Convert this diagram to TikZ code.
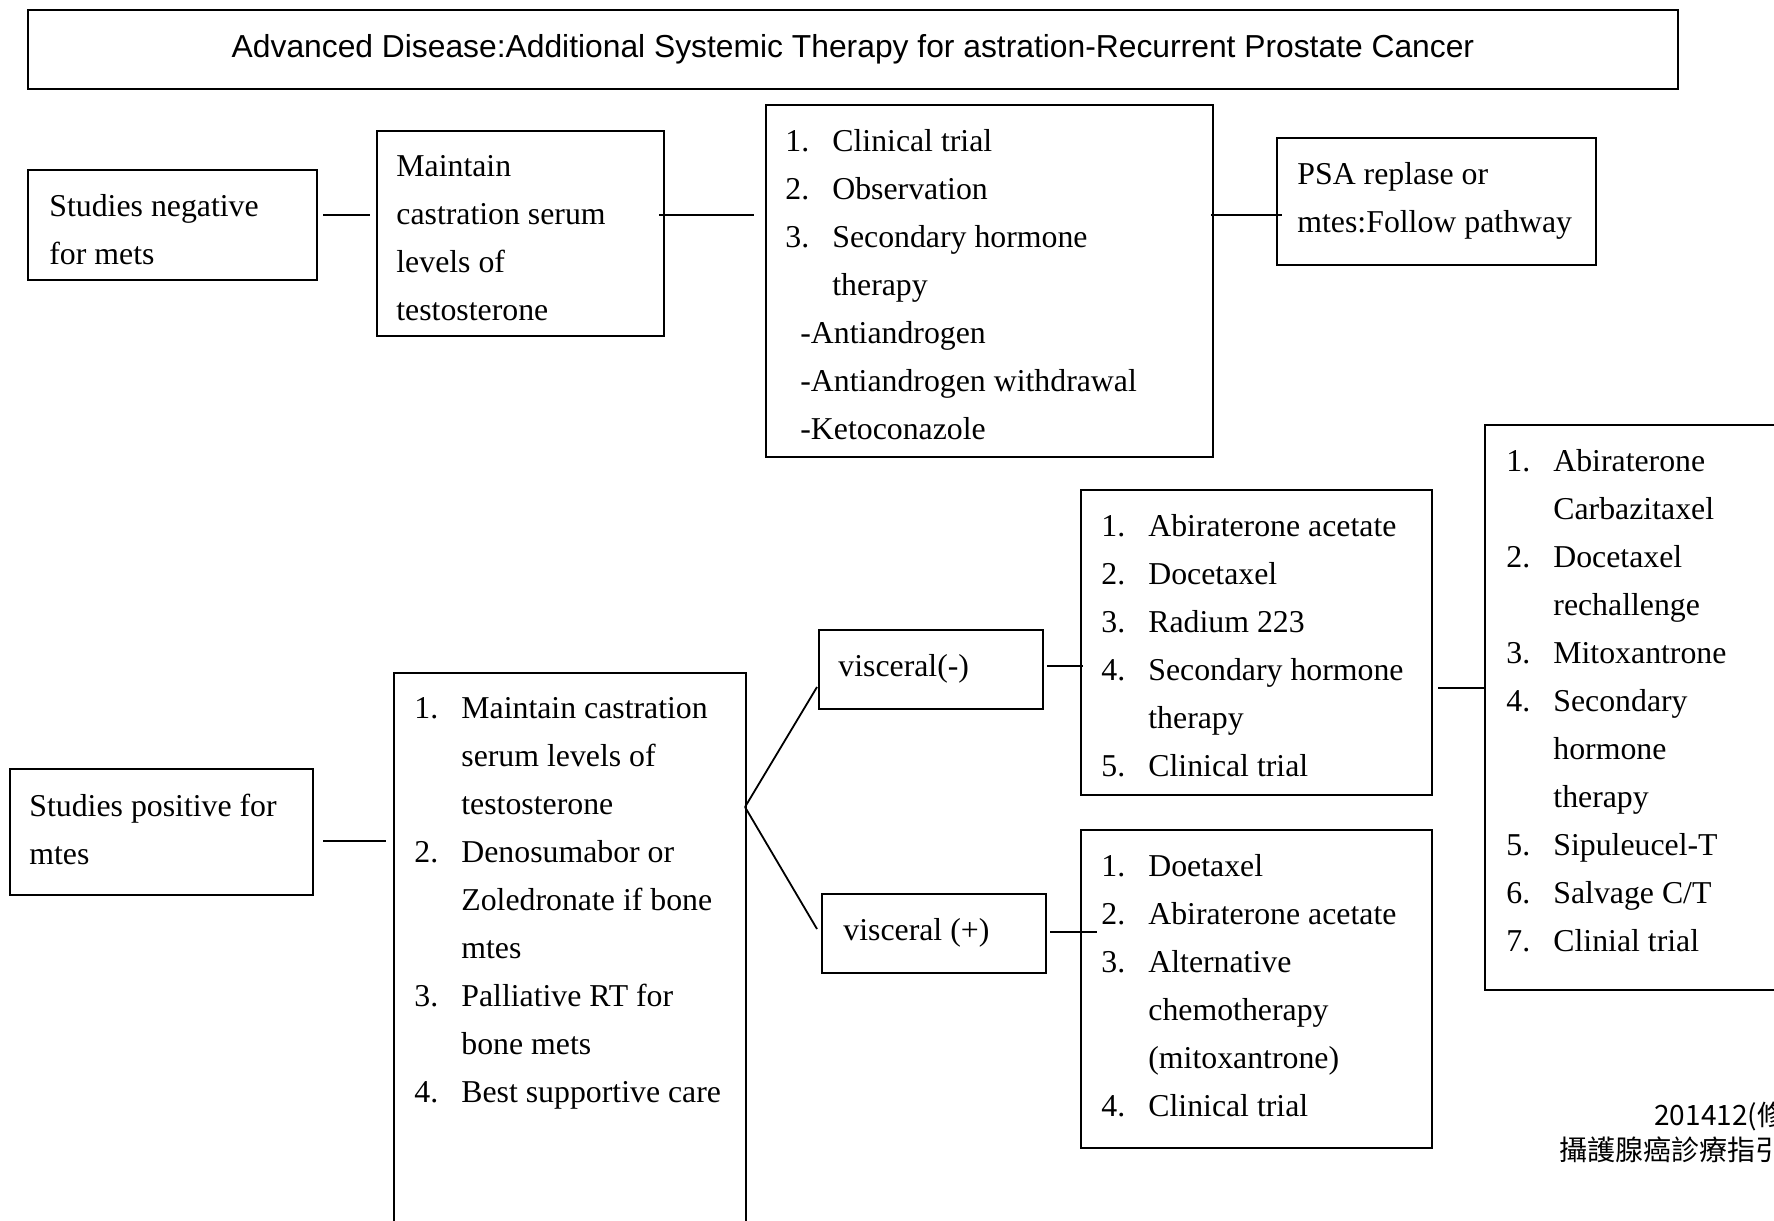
\documentclass[tikz,border=0pt]{standalone}
\usepackage{fontspec}
\setmainfont{Liberation Serif}
\newfontfamily\titlefont{Liberation Sans}
\newfontfamily\cjk{Noto Sans CJK TC}

\newcommand{\numlbl}[1]{\makebox[23.5pt][l]{#1}}

\begin{document}
\begin{tikzpicture}[x=0.5pt, y=-0.5pt,
    frame/.style={draw, line width=1pt, rectangle, anchor=north west, inner sep=0pt},
    boxtext/.style={anchor=north west, inner sep=0pt, align=left, font=\fontsize{15.9}{24}\selectfont},
    link/.style={line width=0.9pt}]

  \useasboundingbox (0,0) rectangle (1774,1221);
  \clip (0,0) rectangle (1774,1221);

  \node[frame, align=center, font=\titlefont\fontsize{15.9}{24}\selectfont, minimum width=825pt, minimum height=39.5pt] (title) at (27, 9) {Advanced Disease:Additional Systemic Therapy for astration-Recurrent Prostate Cancer};

  % negative for mets
  \node[frame, minimum width=144.5pt, minimum height=55pt]    (neg)   at (27, 169)  {};
  \node[frame, minimum width=143.5pt, minimum height=102.5pt] (maint) at (376, 130) {};
  \node[frame, minimum width=223.5pt, minimum height=176pt]   (opts)  at (765, 104) {};
  \node[frame, minimum width=159.5pt, minimum height=63.5pt]  (psa)   at (1276, 137) {};

  \node[boxtext] (negtext)   at ([xshift=11pt, yshift=-12.6pt]neg.north west)   {Studies negative\\for mets};
  \node[boxtext] (mainttext) at ([xshift=10pt, yshift=-12.6pt]maint.north west) {Maintain\\castration serum\\levels of\\testosterone};
  \node[boxtext] (optstext)  at ([xshift=10pt, yshift=-12.6pt]opts.north west)  {\numlbl{1.}Clinical trial\\
    \numlbl{2.}Observation\\
    \numlbl{3.}Secondary hormone\\
    \numlbl{}therapy\\
    \hspace*{7.5pt}-Antiandrogen\\
    \hspace*{7.5pt}-Antiandrogen withdrawal\\
    \hspace*{7.5pt}-Ketoconazole};
  \node[boxtext] (psatext)   at ([xshift=10.5pt, yshift=-12.6pt]psa.north west) {PSA replase or\\mtes:Follow pathway};

  % positive for mets
  \node[frame, minimum width=151.5pt, minimum height=63pt]    (pos)   at (9, 768)    {};
  \node[frame, minimum width=176pt, minimum height=284pt]     (core)  at (393, 672)  {};
  \node[frame, minimum width=112pt, minimum height=39.5pt]    (vneg)  at (818, 629)  {};
  \node[frame, minimum width=112pt, minimum height=39.5pt]    (vpos)  at (821, 893)  {};
  \node[frame, minimum width=175.5pt, minimum height=152.5pt] (lista) at (1080, 489) {};
  \node[frame, minimum width=175.5pt, minimum height=159pt]   (listb) at (1080, 829) {};
  \node[frame, minimum width=158pt, minimum height=282.5pt]   (rbox)  at (1484, 424) {};

  \node[boxtext] (postext)  at ([xshift=10pt, yshift=-12.6pt]pos.north west)  {Studies positive for\\mtes};
  \node[boxtext] (coretext) at ([xshift=10.5pt, yshift=-12.6pt]core.north west) {\numlbl{1.}Maintain castration\\
    \numlbl{}serum levels of\\
    \numlbl{}testosterone\\
    \numlbl{2.}Denosumabor or\\
    \numlbl{}Zoledronate if bone\\
    \numlbl{}mtes\\
    \numlbl{3.}Palliative RT for\\
    \numlbl{}bone mets\\
    \numlbl{4.}Best supportive care};
  \node[boxtext] (vnegtext) at ([xshift=10pt, yshift=-12.6pt]vneg.north west) {visceral(-)};
  \node[boxtext] (vpostext) at ([xshift=11pt, yshift=-12.6pt]vpos.north west) {visceral (+)};
  \node[boxtext] (listatext) at ([xshift=10.5pt, yshift=-12.6pt]lista.north west) {\numlbl{1.}Abiraterone acetate\\
    \numlbl{2.}Docetaxel\\
    \numlbl{3.}Radium 223\\
    \numlbl{4.}Secondary hormone\\
    \numlbl{}therapy\\
    \numlbl{5.}Clinical trial};
  \node[boxtext] (listbtext) at ([xshift=10.5pt, yshift=-12.6pt]listb.north west) {\numlbl{1.}Doetaxel\\
    \numlbl{2.}Abiraterone acetate\\
    \numlbl{3.}Alternative\\
    \numlbl{}chemotherapy\\
    \numlbl{}(mitoxantrone)\\
    \numlbl{4.}Clinical trial};
  \node[boxtext] (rboxtext) at ([xshift=11pt, yshift=-12.6pt]rbox.north west) {\numlbl{1.}Abiraterone\\
    \numlbl{}Carbazitaxel\\
    \numlbl{2.}Docetaxel\\
    \numlbl{}rechallenge\\
    \numlbl{3.}Mitoxantrone\\
    \numlbl{4.}Secondary\\
    \numlbl{}hormone\\
    \numlbl{}therapy\\
    \numlbl{5.}Sipuleucel-T\\
    \numlbl{6.}Salvage C/T\\
    \numlbl{7.}Clinial trial};

  \node[anchor=base west, inner sep=0pt, font=\cjk\fontsize{14}{17}\selectfont] (rev)   at (1654, 1125) {201412(修};
  \node[anchor=base west, inner sep=0pt, font=\cjk\fontsize{14}{17}\selectfont] (guide) at (1559, 1160) {攝護腺癌診療指引};

  % connectors
  \coordinate (r1) at (0, 215);
  \draw[link, shorten <=2.5pt, shorten >=3pt]    (neg.east |- r1)  -- (maint.west |- r1);
  \draw[link, shorten <=-3pt, shorten >=5.5pt]   (maint.east |- r1) -- (opts.west |- r1);
  \draw[link, shorten <=-1.5pt, shorten >=-3pt]  (opts.east |- r1) -- (psa.west |- r1);

  \coordinate (r2) at (0, 841);
  \draw[link, shorten <=4.5pt, shorten >=3.5pt]  (pos.east |- r2) -- (core.west |- r2);

  \coordinate (fork) at (745, 807);
  \draw[link] (fork) -- ([xshift=-0.5pt, yshift=-8.75pt]vneg.west);
  \draw[link] (fork) -- ([xshift=-2pt, yshift=2.25pt]vpos.west);

  \coordinate (r3) at (0, 666);
  \draw[link, shorten <=1.5pt, shorten >=-1.5pt] (vneg.east |- r3) -- (lista.west |- r3);
  \coordinate (r4) at (0, 932);
  \draw[link, shorten <=1.5pt, shorten >=-8.5pt] (vpos.east |- r4) -- (listb.west |- r4);
  \coordinate (r5) at (0, 688);
  \draw[link, shorten <=2.5pt]                   (lista.east |- r5) -- (rbox.west |- r5);
\end{tikzpicture}
\end{document}
